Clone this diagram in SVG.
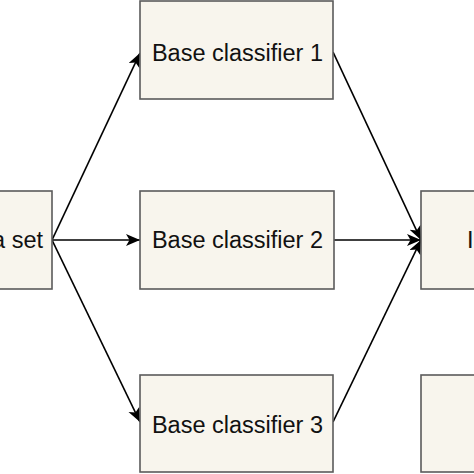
<svg xmlns="http://www.w3.org/2000/svg" width="474" height="474" viewBox="0 0 474 474">
<style>
.box{fill:#f8f5ed;stroke:#5b5b5b;stroke-width:1.6}
.lbl{font-family:"Liberation Sans",Arial,sans-serif;font-size:23.5px;fill:#111;text-anchor:middle}
.edge{fill:none;stroke:#000;stroke-width:1.7}
</style>
<defs>
<marker id="arr" markerUnits="userSpaceOnUse" markerWidth="15" markerHeight="13" refX="14" refY="6" orient="auto" viewBox="0 0 15 13">
<path d="M0,0 L14,6 L0,12 L3.5,6 z" fill="#000"/>
</marker>
</defs>
<rect width="474" height="474" fill="#fff"/>
<g id="edges">
<path class="edge" d="M52,240 L140,53" marker-end="url(#arr)"/>
<path class="edge" d="M52,240 L140,240" marker-end="url(#arr)"/>
<path class="edge" d="M52,240 L140,422" marker-end="url(#arr)"/>
<path class="edge" d="M333,52 L421,240" marker-end="url(#arr)"/>
<path class="edge" d="M334,240 L421,240" marker-end="url(#arr)"/>
<path class="edge" d="M333,422 L421,240" marker-end="url(#arr)"/>
</g>
<g id="dataset">
<rect class="box" x="-60" y="191" width="112" height="98"/>
<text class="lbl" x="43" y="248" style="text-anchor:end">Data set</text>
</g>
<g id="base1">
<rect class="box" x="140" y="1" width="193" height="98"/>
<text class="lbl" x="237.5" y="60.5">Base classifier 1</text>
</g>
<g id="base2">
<rect class="box" x="140" y="191" width="194" height="98"/>
<text class="lbl" x="237.5" y="248">Base classifier 2</text>
</g>
<g id="base3">
<rect class="box" x="140" y="375" width="193" height="97"/>
<text class="lbl" x="237.5" y="433">Base classifier 3</text>
</g>
<g id="combiner">
<rect class="box" x="421" y="191" width="100" height="98"/>
<text class="lbl" x="467" y="248" style="text-anchor:start">I</text>
</g>
<g id="output">
<rect class="box" x="421" y="375" width="100" height="97"/>
</g>
</svg>
